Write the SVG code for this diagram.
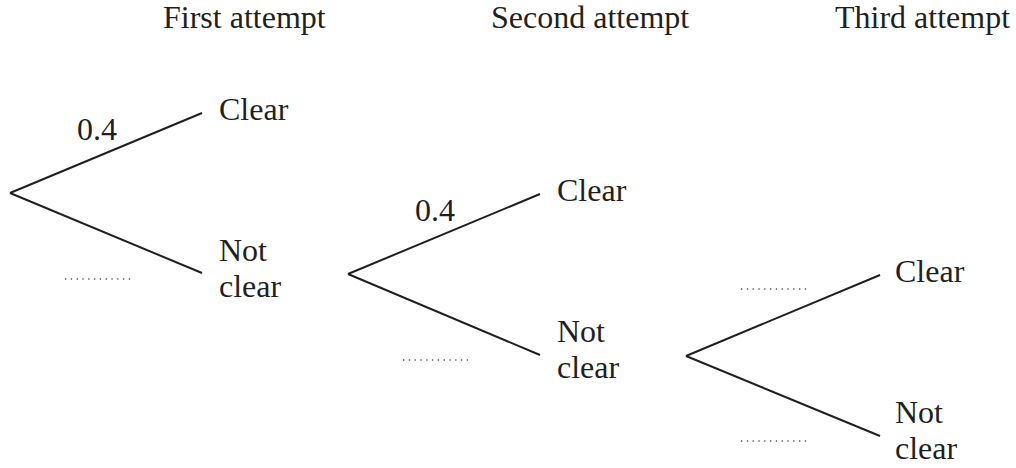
<svg xmlns="http://www.w3.org/2000/svg" width="1016" height="468" viewBox="0 0 1016 468">
<style>
text{font-family:"Liberation Serif","Times New Roman","DejaVu Serif",serif;font-size:32px;fill:#231f20}
.br{stroke:#231f20;stroke-width:2;fill:none}
.dots{stroke:#555;stroke-width:1.3;stroke-dasharray:1.3 4.5;fill:none}
</style>
<rect width="1016" height="468" fill="#fff"/>
<g id="headers">
<text x="163" y="28">First attempt</text>
<text x="491" y="28">Second attempt</text>
<text x="835" y="28">Third attempt</text>
</g>
<g id="connectors">
<line class="br" x1="10" y1="193" x2="202" y2="113"/>
<line class="br" x1="10" y1="193" x2="202" y2="273"/>
<line class="br" x1="348" y1="274" x2="540" y2="194"/>
<line class="br" x1="348" y1="274" x2="540" y2="355"/>
<line class="br" x1="686" y1="356" x2="880" y2="275"/>
<line class="br" x1="686" y1="356" x2="880" y2="436"/>
</g>
<g id="labels">
<text x="77" y="140">0.4</text>
<line class="dots" x1="65" y1="279" x2="130.3" y2="279"/>
<text x="415" y="221">0.4</text>
<line class="dots" x1="403" y1="360" x2="468.3" y2="360"/>
<line class="dots" x1="741" y1="289" x2="806.3" y2="289"/>
<line class="dots" x1="741" y1="441" x2="806.3" y2="441"/>
</g>
<g id="n1-clear"><text x="219" y="120">Clear</text></g>
<g id="n1-notclear"><text x="219" y="261">Not</text><text x="219" y="297">clear</text></g>
<g id="n2-clear"><text x="557" y="201">Clear</text></g>
<g id="n2-notclear"><text x="557" y="342">Not</text><text x="557" y="378">clear</text></g>
<g id="n3-clear"><text x="895" y="282">Clear</text></g>
<g id="n3-notclear"><text x="895" y="423">Not</text><text x="895" y="459">clear</text></g>
</svg>
